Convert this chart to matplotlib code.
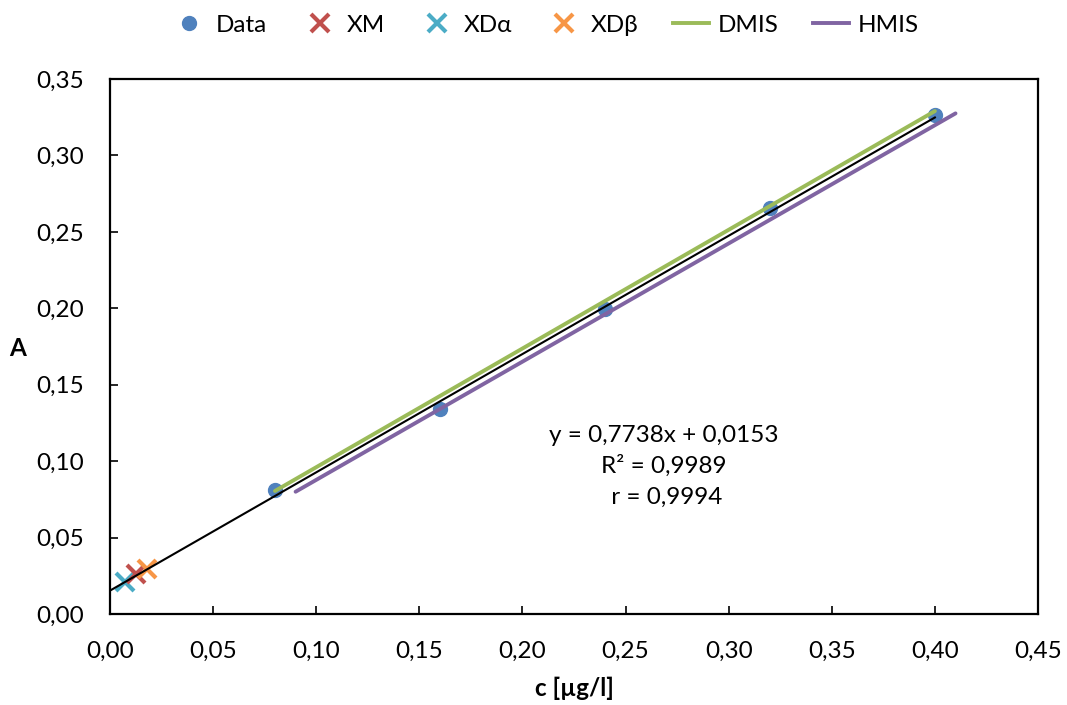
import matplotlib
matplotlib.use("Agg")
import matplotlib.pyplot as plt
from matplotlib.ticker import FuncFormatter, MultipleLocator
from matplotlib.lines import Line2D

plt.rcParams['font.family'] = ['Lato', 'DejaVu Sans']

# Data
conc = [0.08, 0.16, 0.24, 0.32, 0.40]
absorb = [0.081, 0.134, 0.1995, 0.2655, 0.3265]
slope, intercept = 0.7738, 0.0153
fit_x = [0.0, 0.40]
xm = (0.0126, 0.026)
xda = (0.0073, 0.021)
xdb = (0.018, 0.0295)
dmis_x = [0.08, 0.40]
dmis_y = [0.0805, 0.329]
hmis_x = [0.09, 0.41]
hmis_y = [0.080, 0.3275]
eq_lines = ["y = 0,7738x + 0,0153", "R² = 0,9989", " r = 0,9994"]

c_blue = '#4F81BD'
c_red = '#C0504D'
c_teal = '#4BACC6'
c_orange = '#F79646'
c_green = '#9BBB59'
c_purple = '#8064A2'

FS = 17.5

fig = plt.figure(figsize=(10.67, 7.05), dpi=100)
ax = fig.add_axes([110/1067, 1-614/705, 928/1067, 535/705])

ax.plot(dmis_x, dmis_y, color=c_green, lw=2.8, solid_capstyle='round', zorder=3)
ax.plot(hmis_x, hmis_y, color=c_purple, lw=2.8, solid_capstyle='round', zorder=3)
ax.plot(conc, absorb, 'o', color=c_blue, ms=10, zorder=2)
fy = [slope * x + intercept for x in fit_x]
ax.plot(fit_x, fy, color='black', lw=1.5, zorder=4)
ax.plot([xda[0]], [xda[1]], 'x', color=c_teal, ms=13, mew=3, zorder=3)
ax.plot([xm[0]], [xm[1]], 'x', color=c_red, ms=13, mew=3, zorder=3)
ax.plot([xdb[0]], [xdb[1]], 'x', color=c_orange, ms=13, mew=3, zorder=3)

ax.set_xlim(0, 0.45)
ax.set_ylim(0, 0.35)
ax.xaxis.set_major_locator(MultipleLocator(0.05))
ax.yaxis.set_major_locator(MultipleLocator(0.05))
fmt = FuncFormatter(lambda v, p: f"{v:.2f}".replace('.', ','))
ax.xaxis.set_major_formatter(fmt)
ax.yaxis.set_major_formatter(fmt)
ax.tick_params(axis='both', direction='in', length=6, width=1.2, labelsize=FS)
ax.tick_params(axis='x', pad=19)
ax.tick_params(axis='y', pad=19)
for s in ax.spines.values():
    s.set_linewidth(1.6)

ax.set_xlabel('c [µg/l]', fontsize=FS, fontweight='bold', va='center')
ax.xaxis.set_label_coords(0.5, -(688-614)/535)
ax.set_ylabel('A', fontsize=FS, fontweight='bold', rotation=0, va='center', ha='center')
ax.yaxis.set_label_coords((18-110)/928, (614-348)/535)

for i, (line, ypx) in enumerate(zip(eq_lines, [435, 466, 497])):
    ax.text((664-110)/928, (614-ypx)/535, line, transform=ax.transAxes,
            ha='center', va='center', fontsize=FS)

handles = [
    Line2D([], [], ls='none', marker='o', color=c_blue, ms=10),
    Line2D([], [], ls='none', marker='x', color=c_red, ms=13, mew=3),
    Line2D([], [], ls='none', marker='x', color=c_teal, ms=13, mew=3),
    Line2D([], [], ls='none', marker='x', color=c_orange, ms=13, mew=3),
    Line2D([], [], color=c_green, lw=2.8),
    Line2D([], [], color=c_purple, lw=2.8),
]
labels = ['Data', 'XM', 'XDα', 'XDβ', 'DMIS', 'HMIS']
fig.legend(handles, labels, loc='center', bbox_to_anchor=(545/1067, 1-25/705),
           ncol=6, frameon=False, fontsize=FS, handlelength=1.5,
           handletextpad=0.35, columnspacing=1.4)

fig.savefig('out.png', dpi=100)
